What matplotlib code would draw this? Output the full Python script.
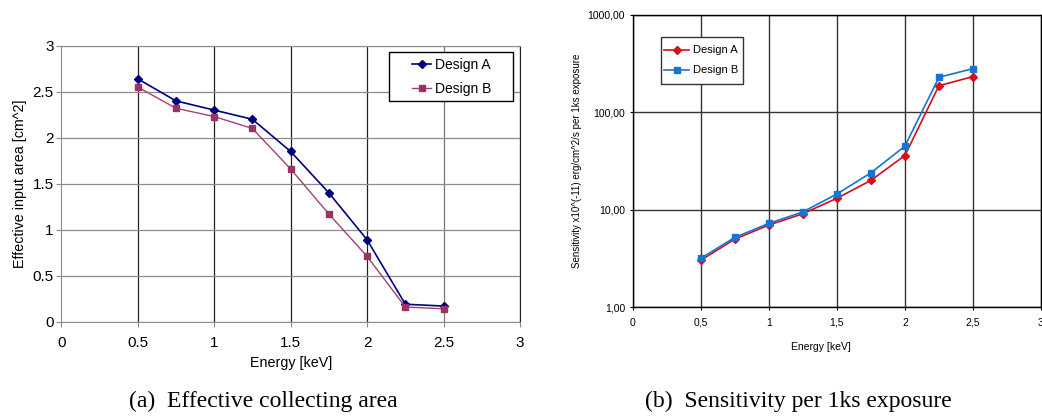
import numpy as np
import matplotlib
matplotlib.use("Agg")
import matplotlib.pyplot as plt
from matplotlib.patches import Rectangle
from matplotlib.ticker import FixedLocator, FuncFormatter

# === DATA ===
energy = [0.5, 0.75, 1.0, 1.25, 1.5, 1.75, 2.0, 2.25, 2.5]

area_a = [2.64, 2.40, 2.30, 2.20, 1.85, 1.40, 0.89, 0.19, 0.17]
area_b = [2.55, 2.32, 2.23, 2.10, 1.66, 1.17, 0.71, 0.16, 0.14]

sens_a = [3.03, 5.0, 6.97, 9.1, 13.1, 20.0, 36.0, 187.0, 232.0]
sens_b = [3.18, 5.2, 7.25, 9.5, 14.5, 23.9, 44.9, 228.0, 280.0]

x_ticks = [0, 0.5, 1, 1.5, 2, 2.5, 3]
area_ticks = [0, 0.5, 1, 1.5, 2, 2.5, 3]
sens_ticks = [1, 10, 100, 1000]

plt.rcParams['font.family'] = ['Liberation Sans', 'DejaVu Sans']

W, H = 1042, 417
fig = plt.figure(figsize=(W / 100, H / 100), dpi=100)


def px_box(x0, y0, x1, y1):
    # pixel box (top-left origin) -> figure fraction rect
    return [x0 / W, 1 - y1 / H, (x1 - x0) / W, (y1 - y0) / H]


def frame(x0, y0, x1, y1, color):
    r = px_box(x0, y0, x1, y1)
    fig.patches.append(Rectangle((r[0], r[1]), r[2], r[3], transform=fig.transFigure,
                                 facecolor='white', edgecolor=color, lw=1.0, zorder=4))


# === (a) Effective collecting area ===
ax1 = fig.add_axes(px_box(61.3, 45.7, 520, 321.7))
ax1.plot(energy, area_a, color='#000080', marker='D', markersize=4.5, lw=1.2,
         label='Design A', clip_on=False)
ax1.plot(energy, area_b, color='#a0417a', marker='s', markersize=5, lw=1.0,
         mfc='#993366', mec='#993366', label='Design B', clip_on=False)
ax1.set_xlim(0, 3)
ax1.set_ylim(0, 3)
ax1.xaxis.set_major_locator(FixedLocator(x_ticks))
ax1.yaxis.set_major_locator(FixedLocator(area_ticks))
ax1.xaxis.set_major_formatter(FuncFormatter(lambda v, p: f"{v:g}"))
ax1.yaxis.set_major_formatter(FuncFormatter(lambda v, p: f"{v:g}"))
ax1.grid(True, axis='y', color='#8c8c8c', lw=0.9)
for xv in x_ticks[1:]:
    ax1.axvline(xv, color='#222222' if xv != 2.5 else '#777777', lw=0.9, zorder=0.5)
for s in ['left', 'bottom', 'top']:
    ax1.spines[s].set_color('#8c8c8c')
ax1.spines['right'].set_color('#222222')
ax1.tick_params(labelsize=11, length=3.5, color='#8c8c8c')
ax1.tick_params(axis='x', pad=7)
ax1.tick_params(axis='y', pad=2)
ax1.set_xlabel('Energy [keV]', fontsize=10.3, labelpad=4)
ax1.set_ylabel('Effective input area [cm^2]', fontsize=10.3, labelpad=4)
frame(389, 52, 513, 101, 'black')
fig.legend(*ax1.get_legend_handles_labels(), loc='center',
           bbox_to_anchor=(451.5 / W, 1 - 77 / H), fontsize=10, frameon=False,
           handlelength=1.4, handletextpad=0.25, borderpad=0, labelspacing=0.75
           ).set_zorder(5)

# === (b) Sensitivity per 1ks exposure ===
ax2 = fig.add_axes(px_box(632.7, 14.7, 1041, 307.3))
ax2.plot(energy, sens_a, color='#d40f1e', marker='D', markersize=4.5, lw=1.2,
         label='Design A')
ax2.plot(energy, sens_b, color='#1574d4', marker='s', markersize=5, lw=1.2,
         label='Design B')
ax2.set_yscale('log')
ax2.set_xlim(0, 3)
ax2.set_ylim(1, 1000)
ax2.xaxis.set_major_locator(FixedLocator(x_ticks))
ax2.yaxis.set_major_locator(FixedLocator(sens_ticks))
ax2.yaxis.set_minor_locator(FixedLocator([]))
ax2.xaxis.set_major_formatter(FuncFormatter(lambda v, p: f"{v:g}".replace('.', ',')))
ax2.yaxis.set_major_formatter(FuncFormatter(lambda v, p: f"{v:.2f}".replace('.', ',')))
ax2.grid(True, which='major', color='#333333', lw=1.0)
for s in ax2.spines.values():
    s.set_color('black')
    s.set_linewidth(1.0)
ax2.tick_params(labelsize=7.5, length=2.5)
ax2.tick_params(axis='x', pad=5)
ax2.tick_params(axis='y', pad=3)
ax2.set_xlabel('Energy [keV]', fontsize=7.5, labelpad=10)
ax2.xaxis.label.set_x(0.46)
ax2.set_ylabel('Sensitivity x10^(-11) erg/cm^2/s per 1ks exposure', fontsize=7, labelpad=4)
frame(660.7, 36.7, 742.7, 84, '#333333')
fig.legend(*ax2.get_legend_handles_labels(), loc='center',
           bbox_to_anchor=(701.6 / W, 1 - 60.4 / H), fontsize=8, frameon=False,
           handlelength=2.25, handletextpad=0.36, borderpad=0, labelspacing=0.9
           ).set_zorder(5)

# === Captions ===
fig.text(263 / W, 1 - 401 / H, '(a)  Effective collecting area', ha='center', va='center',
         fontsize=17, family='Liberation Serif')
fig.text(798 / W, 1 - 401 / H, '(b)  Sensitivity per 1ks exposure', ha='center', va='center',
         fontsize=17, family='Liberation Serif')

fig.savefig('out.png', dpi=100)
